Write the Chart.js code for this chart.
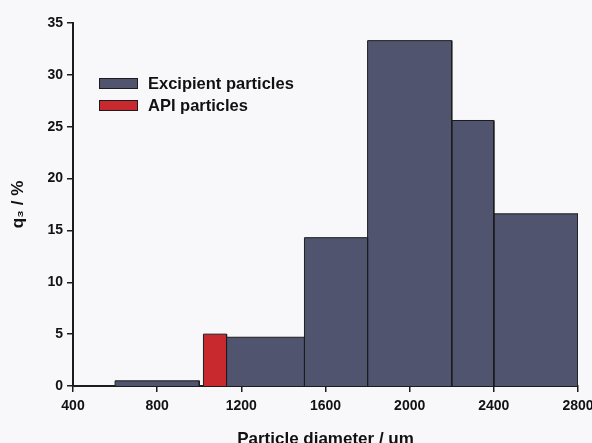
<!DOCTYPE html>
<html lang="en">
<head>
    <meta charset="UTF-8">
    <title>Particle size distribution</title>
    <script src="https://cdn.jsdelivr.net/npm/chart.js"></script>
    <style>
        html, body { margin: 0; padding: 0; background: #f8f8fa; overflow: hidden; }
        #wrap { width: 592px; height: 443px; overflow: hidden; }
    </style>
</head>
<body>
    <div id="wrap">
        <canvas id="psdChart" width="592" height="460"></canvas>
    </div>

    <script>
        // bins (um) and q3 values (%)
        const excipientStart = [600, 1130, 1500, 1800, 2200, 2400];
        const excipientEnd   = [1000, 1500, 1800, 2200, 2400, 2800];
        const excipientQ3    = [0.5, 4.7, 14.3, 33.3, 25.6, 16.6];

        const apiStart = [1020];
        const apiEnd   = [1130];
        const apiQ3    = [5.0];

        const xTicks = [400, 800, 1200, 1600, 2000, 2400, 2800];
        const yTicks = [0, 5, 10, 15, 20, 25, 30, 35];

        const excipientColor = '#50546e';
        const apiColor = '#c8292e';
        const edgeColor = '#1c1c1c';

        function binDataset(label, start, end, value, color) {
            return {
                type: 'line',
                label: label,
                data: [
                    { x: start, y: 0 },
                    { x: start, y: value },
                    { x: end, y: value },
                    { x: end, y: 0 }
                ],
                backgroundColor: color,
                borderColor: edgeColor,
                borderWidth: 1,
                fill: 'origin',
                pointRadius: 0,
                tension: 0
            };
        }

        let datasets = [];
        for (let i = 0; i < excipientQ3.length; i++) {
            datasets.push(binDataset('Excipient particles', excipientStart[i], excipientEnd[i], excipientQ3[i], excipientColor));
        }
        for (let i = 0; i < apiQ3.length; i++) {
            datasets.push(binDataset('API particles', apiStart[i], apiEnd[i], apiQ3[i], apiColor));
        }

        // legend drawn inside the plot, upper left
        const insideLegend = {
            id: 'insideLegend',
            afterDraw(chart) {
                const ctx = chart.ctx;
                const items = [
                    { text: 'Excipient particles', color: excipientColor },
                    { text: 'API particles', color: apiColor }
                ];
                const x0 = chart.chartArea.left + 26;
                let y0 = 78;
                ctx.save();
                ctx.font = 'bold 16.5px "Liberation Sans", Arial, sans-serif';
                ctx.textBaseline = 'middle';
                items.forEach(item => {
                    ctx.fillStyle = item.color;
                    ctx.fillRect(x0, y0, 39, 11);
                    ctx.strokeStyle = edgeColor;
                    ctx.lineWidth = 1;
                    ctx.strokeRect(x0 + 0.5, y0 + 0.5, 38, 10);
                    ctx.fillStyle = '#111';
                    ctx.fillText(item.text, x0 + 49, y0 + 6);
                    y0 += 22;
                });
                ctx.restore();
            }
        };

        const tickFont = { family: '"Liberation Sans", Arial, sans-serif', size: 14, weight: 'bold' };
        const titleFont = { family: '"Liberation Sans", Arial, sans-serif', size: 17, weight: 'bold' };

        let ctx = document.getElementById('psdChart').getContext('2d');
        let psdChart = new Chart(ctx, {
            type: 'scatter',
            data: { datasets: datasets },
            plugins: [insideLegend],
            options: {
                responsive: false,
                animation: false,
                layout: { padding: { top: 23, right: 14, left: 0, bottom: 0 } },
                plugins: {
                    legend: { display: false },
                    tooltip: { enabled: false }
                },
                scales: {
                    x: {
                        type: 'linear',
                        min: xTicks[0],
                        max: xTicks[xTicks.length - 1],
                        afterBuildTicks: s => { s.ticks = xTicks.map(v => ({ value: v })); },
                        afterFit: s => { s.height = 74; s.paddingLeft = 0; s.paddingRight = 0; },
                        grid: { drawOnChartArea: false, drawTicks: true, tickLength: 6, color: edgeColor, lineWidth: 1.5 },
                        border: { display: true, color: edgeColor, width: 2 },
                        ticks: { color: '#111', font: tickFont, padding: 6, maxRotation: 0, callback: v => String(v) },
                        title: { display: true, text: 'Particle diameter / um', color: '#111', font: titleFont, padding: { top: 4, bottom: 10 } }
                    },
                    y: {
                        min: yTicks[0],
                        max: yTicks[yTicks.length - 1],
                        afterBuildTicks: s => { s.ticks = yTicks.map(v => ({ value: v })); },
                        afterFit: s => { s.width = 73; s.paddingTop = 0; s.paddingBottom = 0; },
                        grid: { drawOnChartArea: false, drawTicks: true, tickLength: 6, color: edgeColor, lineWidth: 1.5 },
                        border: { display: true, color: edgeColor, width: 2 },
                        ticks: { color: '#111', font: tickFont, padding: 4, callback: v => String(v) },
                        title: { display: true, text: 'q₃ / %', color: '#111', font: titleFont, padding: { top: 8, bottom: 0 } }
                    }
                }
            }
        });
    </script>
</body>
</html>
